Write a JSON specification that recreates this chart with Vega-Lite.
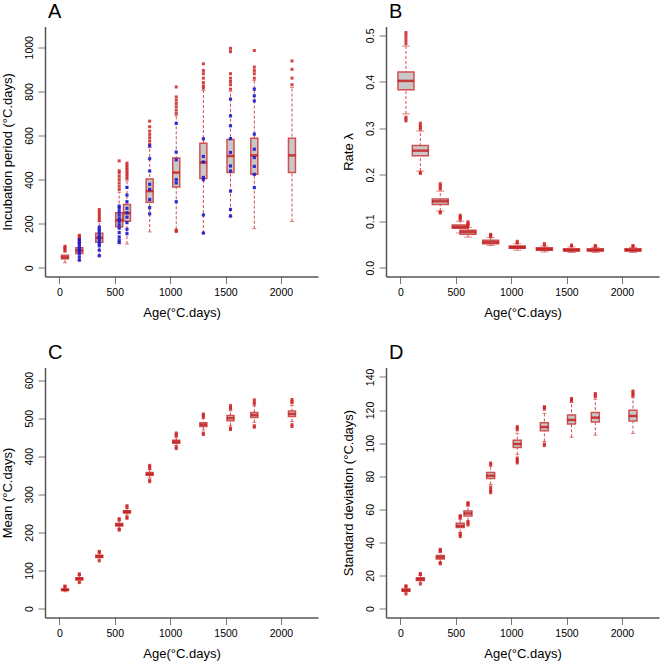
{
"$schema": "https://vega.github.io/schema/vega-lite/v6.json",
"padding": {"left": 1, "top": 1.5, "right": 4, "bottom": 5},
"columns": 2,
"bounds": "flush",
"spacing": {"column": 68, "row": 91},
"config": {
  "view": {"stroke": null},
  "font": "Liberation Sans",
  "axis": {"grid": false, "domainColor": "#555555", "domainWidth": 1.5, "tickColor": "#777777", "tickSize": 7, "tickWidth": 1, "labelFontSize": 10.5, "labelColor": "#000000", "titleFontSize": 13, "titleFontWeight": "normal", "titleColor": "#000000", "labelFont": "Liberation Sans", "titleFont": "Liberation Sans", "labelFlush": false, "labelOverlap": false},
  "axisY": {"labelAngle": -90, "labelPadding": 4, "titlePadding": 10, "format": "d"},
  "axisX": {"labelPadding": 4, "titlePadding": 8, "format": "d"},
  "title": {"fontSize": 20, "fontWeight": "normal", "anchor": "start", "frame": "group", "font": "Liberation Sans", "offset": 5, "dx": 3, "color": "#000000"}
},
"datasets": {
"box": [
{"p":"A","x":50,"lo":23,"q1":41,"med":48,"q3":57,"hi":72},
{"p":"A","x":180,"lo":35,"q1":65,"med":79,"q3":91,"hi":115},
{"p":"A","x":360,"lo":55,"q1":116,"med":136,"q3":157,"hi":210},
{"p":"A","x":540,"lo":110,"q1":186,"med":216,"q3":250,"hi":343},
{"p":"A","x":610,"lo":108,"q1":211,"med":248,"q3":287,"hi":395},
{"p":"A","x":815,"lo":163,"q1":298,"med":348,"q3":403,"hi":545},
{"p":"A","x":1055,"lo":175,"q1":367,"med":432,"q3":498,"hi":690},
{"p":"A","x":1300,"lo":158,"q1":405,"med":478,"q3":565,"hi":805},
{"p":"A","x":1545,"lo":232,"q1":432,"med":507,"q3":582,"hi":800},
{"p":"A","x":1760,"lo":178,"q1":424,"med":510,"q3":588,"hi":850},
{"p":"A","x":2100,"lo":210,"q1":432,"med":510,"q3":588,"hi":818},
{"p":"B","x":50,"lo":0.331,"q1":0.383,"med":0.402,"q3":0.421,"hi":0.477},
{"p":"B","x":180,"lo":0.208,"q1":0.241,"med":0.252,"q3":0.263,"hi":0.294},
{"p":"B","x":360,"lo":0.122,"q1":0.136,"med":0.143,"q3":0.148,"hi":0.165},
{"p":"B","x":540,"lo":0.075,"q1":0.085,"med":0.088,"q3":0.092,"hi":0.100},
{"p":"B","x":610,"lo":0.066,"q1":0.072,"med":0.077,"q3":0.081,"hi":0.087},
{"p":"B","x":815,"lo":0.048,"q1":0.052,"med":0.055,"q3":0.059,"hi":0.065},
{"p":"B","x":1055,"lo":0.038,"q1":0.042,"med":0.044,"q3":0.047,"hi":0.052},
{"p":"B","x":1300,"lo":0.034,"q1":0.038,"med":0.040,"q3":0.043,"hi":0.047},
{"p":"B","x":1545,"lo":0.033,"q1":0.036,"med":0.038,"q3":0.041,"hi":0.045},
{"p":"B","x":1760,"lo":0.033,"q1":0.036,"med":0.038,"q3":0.041,"hi":0.044},
{"p":"B","x":2100,"lo":0.033,"q1":0.036,"med":0.038,"q3":0.041,"hi":0.044},
{"p":"C","x":50,"lo":44,"q1":47,"med":49,"q3":51,"hi":54},
{"p":"C","x":180,"lo":70,"q1":75,"med":78,"q3":81,"hi":86},
{"p":"C","x":360,"lo":128,"q1":134,"med":137,"q3":140,"hi":145},
{"p":"C","x":540,"lo":211,"q1":217,"med":220,"q3":223,"hi":230},
{"p":"C","x":610,"lo":245,"q1":251,"med":254,"q3":257,"hi":263},
{"p":"C","x":815,"lo":343,"q1":350,"med":353,"q3":357,"hi":365},
{"p":"C","x":1055,"lo":428,"q1":434,"med":438,"q3":442,"hi":450},
{"p":"C","x":1300,"lo":469,"q1":478,"med":483,"q3":488,"hi":499},
{"p":"C","x":1545,"lo":480,"q1":493,"med":500,"q3":507,"hi":519},
{"p":"C","x":1760,"lo":489,"q1":502,"med":508,"q3":515,"hi":532},
{"p":"C","x":2100,"lo":491,"q1":504,"med":511,"q3":519,"hi":533},
{"p":"D","x":50,"lo":9.5,"q1":10.5,"med":11.1,"q3":11.8,"hi":12.5},
{"p":"D","x":180,"lo":15.5,"q1":17,"med":17.8,"q3":18.6,"hi":20},
{"p":"D","x":360,"lo":28,"q1":30,"med":31,"q3":32,"hi":34},
{"p":"D","x":540,"lo":46,"q1":49,"med":50,"q3":51.6,"hi":54},
{"p":"D","x":610,"lo":53,"q1":56,"med":57.5,"q3":59,"hi":62},
{"p":"D","x":815,"lo":75,"q1":78.6,"med":80.3,"q3":82.2,"hi":86},
{"p":"D","x":1055,"lo":93,"q1":97.3,"med":99.5,"q3":101.7,"hi":106},
{"p":"D","x":1300,"lo":101,"q1":107.5,"med":109.7,"q3":112.3,"hi":118},
{"p":"D","x":1545,"lo":103.5,"q1":111.5,"med":114,"q3":117,"hi":124.5},
{"p":"D","x":1760,"lo":104.8,"q1":112.8,"med":115.4,"q3":118.5,"hi":126.5},
{"p":"D","x":2100,"lo":105.8,"q1":113.4,"med":116.4,"q3":119.9,"hi":127.5}
],
"out": [
{"p":"A","x":50,"y":78},{"p":"A","x":50,"y":85},{"p":"A","x":50,"y":92},{"p":"A","x":50,"y":98},
{"p":"A","x":180,"y":120},{"p":"A","x":180,"y":128},{"p":"A","x":180,"y":135},{"p":"A","x":180,"y":142},{"p":"A","x":180,"y":148},
{"p":"A","x":360,"y":215},{"p":"A","x":360,"y":225},{"p":"A","x":360,"y":235},{"p":"A","x":360,"y":245},{"p":"A","x":360,"y":255},{"p":"A","x":360,"y":265},
{"p":"A","x":540,"y":355},{"p":"A","x":540,"y":370},{"p":"A","x":540,"y":385},{"p":"A","x":540,"y":400},{"p":"A","x":540,"y":415},{"p":"A","x":540,"y":430},{"p":"A","x":540,"y":440},{"p":"A","x":540,"y":485},
{"p":"A","x":610,"y":405},{"p":"A","x":610,"y":415},{"p":"A","x":610,"y":425},{"p":"A","x":610,"y":435},{"p":"A","x":610,"y":445},{"p":"A","x":610,"y":455},{"p":"A","x":610,"y":465},{"p":"A","x":610,"y":475},
{"p":"A","x":815,"y":560},{"p":"A","x":815,"y":575},{"p":"A","x":815,"y":590},{"p":"A","x":815,"y":605},{"p":"A","x":815,"y":620},{"p":"A","x":815,"y":640},{"p":"A","x":815,"y":665},
{"p":"A","x":1055,"y":165},{"p":"A","x":1055,"y":170},{"p":"A","x":1055,"y":700},{"p":"A","x":1055,"y":715},{"p":"A","x":1055,"y":730},{"p":"A","x":1055,"y":745},{"p":"A","x":1055,"y":760},{"p":"A","x":1055,"y":775},{"p":"A","x":1055,"y":820},
{"p":"A","x":1300,"y":815},{"p":"A","x":1300,"y":825},{"p":"A","x":1300,"y":840},{"p":"A","x":1300,"y":860},{"p":"A","x":1300,"y":880},{"p":"A","x":1300,"y":895},{"p":"A","x":1300,"y":925},
{"p":"A","x":1545,"y":810},{"p":"A","x":1545,"y":830},{"p":"A","x":1545,"y":845},{"p":"A","x":1545,"y":860},{"p":"A","x":1545,"y":880},{"p":"A","x":1545,"y":980},{"p":"A","x":1545,"y":995},
{"p":"A","x":1760,"y":860},{"p":"A","x":1760,"y":880},{"p":"A","x":1760,"y":895},{"p":"A","x":1760,"y":910},{"p":"A","x":1760,"y":985},
{"p":"A","x":2100,"y":830},{"p":"A","x":2100,"y":860},{"p":"A","x":2100,"y":900},{"p":"A","x":2100,"y":938},
{"p":"B","x":50,"y":0.316},{"p":"B","x":50,"y":0.320},{"p":"B","x":50,"y":0.324},{"p":"B","x":50,"y":0.482},{"p":"B","x":50,"y":0.488},{"p":"B","x":50,"y":0.494},{"p":"B","x":50,"y":0.500},{"p":"B","x":50,"y":0.506},
{"p":"B","x":180,"y":0.203},{"p":"B","x":180,"y":0.205},{"p":"B","x":180,"y":0.298},{"p":"B","x":180,"y":0.302},{"p":"B","x":180,"y":0.306},{"p":"B","x":180,"y":0.311},
{"p":"B","x":360,"y":0.118},{"p":"B","x":360,"y":0.120},{"p":"B","x":360,"y":0.169},{"p":"B","x":360,"y":0.173},{"p":"B","x":360,"y":0.177},{"p":"B","x":360,"y":0.181},
{"p":"B","x":540,"y":0.104},{"p":"B","x":540,"y":0.107},{"p":"B","x":540,"y":0.110},{"p":"B","x":540,"y":0.113},
{"p":"B","x":610,"y":0.090},{"p":"B","x":610,"y":0.093},{"p":"B","x":610,"y":0.096},{"p":"B","x":610,"y":0.099},
{"p":"B","x":815,"y":0.067},{"p":"B","x":815,"y":0.070},{"p":"B","x":815,"y":0.072},
{"p":"B","x":1055,"y":0.054},{"p":"B","x":1055,"y":0.057},
{"p":"B","x":1300,"y":0.049},{"p":"B","x":1300,"y":0.052},
{"p":"B","x":1545,"y":0.047},{"p":"B","x":1545,"y":0.049},
{"p":"B","x":1760,"y":0.046},{"p":"B","x":1760,"y":0.048},
{"p":"B","x":2100,"y":0.046},{"p":"B","x":2100,"y":0.048},
{"p":"C","x":50,"y":57},{"p":"C","x":50,"y":59},
{"p":"C","x":180,"y":68},{"p":"C","x":180,"y":89},{"p":"C","x":180,"y":91},
{"p":"C","x":360,"y":125},{"p":"C","x":360,"y":148},{"p":"C","x":360,"y":150},
{"p":"C","x":540,"y":206},{"p":"C","x":540,"y":208},{"p":"C","x":540,"y":233},{"p":"C","x":540,"y":236},
{"p":"C","x":610,"y":237},{"p":"C","x":610,"y":240},{"p":"C","x":610,"y":266},{"p":"C","x":610,"y":270},
{"p":"C","x":815,"y":333},{"p":"C","x":815,"y":337},{"p":"C","x":815,"y":368},{"p":"C","x":815,"y":372},{"p":"C","x":815,"y":376},
{"p":"C","x":1055,"y":420},{"p":"C","x":1055,"y":424},{"p":"C","x":1055,"y":453},{"p":"C","x":1055,"y":457},{"p":"C","x":1055,"y":461},
{"p":"C","x":1300,"y":457},{"p":"C","x":1300,"y":461},{"p":"C","x":1300,"y":503},{"p":"C","x":1300,"y":507},{"p":"C","x":1300,"y":511},
{"p":"C","x":1545,"y":470},{"p":"C","x":1545,"y":474},{"p":"C","x":1545,"y":524},{"p":"C","x":1545,"y":528},{"p":"C","x":1545,"y":533},
{"p":"C","x":1760,"y":476},{"p":"C","x":1760,"y":480},{"p":"C","x":1760,"y":537},{"p":"C","x":1760,"y":542},{"p":"C","x":1760,"y":548},
{"p":"C","x":2100,"y":478},{"p":"C","x":2100,"y":483},{"p":"C","x":2100,"y":540},{"p":"C","x":2100,"y":544},{"p":"C","x":2100,"y":549},
{"p":"D","x":50,"y":8.8},{"p":"D","x":50,"y":13.2},{"p":"D","x":50,"y":13.8},
{"p":"D","x":180,"y":14.8},{"p":"D","x":180,"y":20.6},{"p":"D","x":180,"y":21.2},
{"p":"D","x":360,"y":27},{"p":"D","x":360,"y":27.6},{"p":"D","x":360,"y":34.6},{"p":"D","x":360,"y":35.2},{"p":"D","x":360,"y":35.8},
{"p":"D","x":540,"y":43.5},{"p":"D","x":540,"y":44.5},{"p":"D","x":540,"y":45.2},{"p":"D","x":540,"y":54.8},{"p":"D","x":540,"y":55.5},{"p":"D","x":540,"y":56.2},
{"p":"D","x":610,"y":50.5},{"p":"D","x":610,"y":51.5},{"p":"D","x":610,"y":52.5},{"p":"D","x":610,"y":62.5},{"p":"D","x":610,"y":63.5},{"p":"D","x":610,"y":64},
{"p":"D","x":815,"y":70},{"p":"D","x":815,"y":71},{"p":"D","x":815,"y":72},{"p":"D","x":815,"y":73.5},{"p":"D","x":815,"y":87},{"p":"D","x":815,"y":88},
{"p":"D","x":1055,"y":88},{"p":"D","x":1055,"y":89},{"p":"D","x":1055,"y":90},{"p":"D","x":1055,"y":91},{"p":"D","x":1055,"y":108},{"p":"D","x":1055,"y":109},{"p":"D","x":1055,"y":110},
{"p":"D","x":1300,"y":98.5},{"p":"D","x":1300,"y":99.5},{"p":"D","x":1300,"y":120.5},{"p":"D","x":1300,"y":121.5},{"p":"D","x":1300,"y":122},
{"p":"D","x":1545,"y":125.5},{"p":"D","x":1545,"y":126.2},{"p":"D","x":1545,"y":127},
{"p":"D","x":1760,"y":128},{"p":"D","x":1760,"y":129},{"p":"D","x":1760,"y":130},
{"p":"D","x":2100,"y":128.5},{"p":"D","x":2100,"y":129.5},{"p":"D","x":2100,"y":130.5},{"p":"D","x":2100,"y":131.5}
],
"obs": [
{"x":180,"y":35},{"x":180,"y":50},{"x":180,"y":65},{"x":180,"y":72},{"x":180,"y":80},{"x":180,"y":88},{"x":180,"y":95},{"x":180,"y":105},{"x":180,"y":115},{"x":180,"y":128},
{"x":360,"y":55},{"x":360,"y":80},{"x":360,"y":100},{"x":360,"y":110},{"x":360,"y":120},{"x":360,"y":130},{"x":360,"y":140},{"x":360,"y":150},{"x":360,"y":165},{"x":360,"y":175},{"x":360,"y":185},
{"x":540,"y":115},{"x":540,"y":125},{"x":540,"y":140},{"x":540,"y":160},{"x":540,"y":180},{"x":540,"y":195},{"x":540,"y":210},{"x":540,"y":225},{"x":540,"y":240},{"x":540,"y":255},{"x":540,"y":270},{"x":540,"y":280},
{"x":610,"y":155},{"x":610,"y":175},{"x":610,"y":205},{"x":610,"y":230},{"x":610,"y":250},{"x":610,"y":270},{"x":610,"y":300},{"x":610,"y":330},{"x":610,"y":365},
{"x":815,"y":245},{"x":815,"y":273},{"x":815,"y":310},{"x":815,"y":356},{"x":815,"y":379},{"x":815,"y":439},{"x":815,"y":495},{"x":815,"y":553},
{"x":1055,"y":300},{"x":1055,"y":385},{"x":1055,"y":400},{"x":1055,"y":490},{"x":1055,"y":525},{"x":1055,"y":655},
{"x":1300,"y":158},{"x":1300,"y":240},{"x":1300,"y":400},{"x":1300,"y":410},{"x":1300,"y":480},{"x":1300,"y":505},{"x":1300,"y":585},
{"x":1545,"y":235},{"x":1545,"y":265},{"x":1545,"y":348},{"x":1545,"y":439},{"x":1545,"y":462},{"x":1545,"y":523},{"x":1545,"y":586},{"x":1545,"y":644},{"x":1545,"y":689},{"x":1545,"y":765},
{"x":1760,"y":364},{"x":1760,"y":424},{"x":1760,"y":460},{"x":1760,"y":500},{"x":1760,"y":538},{"x":1760,"y":606},{"x":1760,"y":757},{"x":1760,"y":780},{"x":1760,"y":810}
]
},
"concat": [
{
 "width": 273, "height": 250,
 "title": {"text": "A"},
 "encoding": {"x": {"field": "x", "type": "quantitative", "scale": {"domain": [-85, 2290], "nice": false, "zero": false}, "axis": {"values": [0, 500, 1000, 1500, 2000], "title": "Age(°C.days)"}}},
 "layer": [
  {"data": {"name": "box"}, "transform": [{"filter": "datum.p == 'A'"}], "mark": {"type": "rule", "color": "#d24b4b", "strokeDash": [3, 2], "strokeWidth": 1}, "encoding": {"y": {"field": "lo", "type": "quantitative", "scale": {"domain": [-39, 1094], "nice": false, "zero": false}, "axis": {"values": [0, 200, 400, 600, 800, 1000], "title": "Incubation period (°C.days)"}}, "y2": {"field": "hi"}}},
  {"data": {"name": "box"}, "transform": [{"filter": "datum.p == 'A'"}, {"fold": ["lo", "hi"], "as": ["k", "v"]}], "mark": {"type": "tick", "orient": "horizontal", "color": "#d24b4b", "size": 4, "thickness": 1}, "encoding": {"y": {"field": "v", "type": "quantitative", "scale": {"domain": [-39, 1094], "nice": false, "zero": false}, "axis": {"values": [0, 200, 400, 600, 800, 1000], "title": "Incubation period (°C.days)"}}}},
  {"data": {"name": "box"}, "transform": [{"filter": "datum.p == 'A'"}], "mark": {"type": "bar", "width": 7, "fill": "#c8c8c8", "stroke": "#d05050", "strokeWidth": 1.5}, "encoding": {"y": {"field": "q1", "type": "quantitative", "scale": {"domain": [-39, 1094], "nice": false, "zero": false}, "axis": {"values": [0, 200, 400, 600, 800, 1000], "title": "Incubation period (°C.days)"}}, "y2": {"field": "q3"}}},
  {"data": {"name": "box"}, "transform": [{"filter": "datum.p == 'A'"}], "mark": {"type": "tick", "orient": "horizontal", "color": "#c00000", "size": 7, "thickness": 2.5}, "encoding": {"y": {"field": "med", "type": "quantitative", "scale": {"domain": [-39, 1094], "nice": false, "zero": false}, "axis": {"values": [0, 200, 400, 600, 800, 1000], "title": "Incubation period (°C.days)"}}}},
  {"data": {"name": "out"}, "transform": [{"filter": "datum.p == 'A'"}], "mark": {"type": "point", "shape": "square", "filled": true, "size": 9, "color": "#cc2222", "opacity": 0.85}, "encoding": {"y": {"field": "y", "type": "quantitative", "scale": {"domain": [-39, 1094], "nice": false, "zero": false}, "axis": {"values": [0, 200, 400, 600, 800, 1000], "title": "Incubation period (°C.days)"}}}},
  {"data": {"name": "obs"}, "mark": {"type": "point", "shape": "square", "filled": true, "size": 10, "color": "#1a1ad0", "opacity": 0.9}, "encoding": {"y": {"field": "y", "type": "quantitative", "scale": {"domain": [-39, 1094], "nice": false, "zero": false}, "axis": {"values": [0, 200, 400, 600, 800, 1000], "title": "Incubation period (°C.days)"}}}}
 ]
},
{
 "width": 273, "height": 250,
 "title": {"text": "B"},
 "encoding": {"x": {"field": "x", "type": "quantitative", "scale": {"domain": [-85, 2290], "nice": false, "zero": false}, "axis": {"values": [0, 500, 1000, 1500, 2000], "title": "Age(°C.days)"}}},
 "layer": [
  {"data": {"name": "box"}, "transform": [{"filter": "datum.p == 'B'"}], "mark": {"type": "rule", "color": "#d24b4b", "strokeDash": [3, 2], "strokeWidth": 1}, "encoding": {"y": {"field": "lo", "type": "quantitative", "scale": {"domain": [-0.0187, 0.519], "nice": false, "zero": false}, "axis": {"values": [0, 0.1, 0.2, 0.3, 0.4, 0.5], "format": ".1f", "title": "Rate λ"}}, "y2": {"field": "hi"}}},
  {"data": {"name": "box"}, "transform": [{"filter": "datum.p == 'B'"}, {"fold": ["lo", "hi"], "as": ["k", "v"]}], "mark": {"type": "tick", "orient": "horizontal", "color": "#d24b4b", "size": 8, "thickness": 1}, "encoding": {"y": {"field": "v", "type": "quantitative", "scale": {"domain": [-0.0187, 0.519], "nice": false, "zero": false}, "axis": {"values": [0, 0.1, 0.2, 0.3, 0.4, 0.5], "format": ".1f", "title": "Rate λ"}}}},
  {"data": {"name": "box"}, "transform": [{"filter": "datum.p == 'B'"}], "mark": {"type": "bar", "width": 16, "fill": "#c8c8c8", "stroke": "#d05050", "strokeWidth": 1.5}, "encoding": {"y": {"field": "q1", "type": "quantitative", "scale": {"domain": [-0.0187, 0.519], "nice": false, "zero": false}, "axis": {"values": [0, 0.1, 0.2, 0.3, 0.4, 0.5], "format": ".1f", "title": "Rate λ"}}, "y2": {"field": "q3"}}},
  {"data": {"name": "box"}, "transform": [{"filter": "datum.p == 'B'"}], "mark": {"type": "tick", "orient": "horizontal", "color": "#c00000", "size": 16, "thickness": 2.5}, "encoding": {"y": {"field": "med", "type": "quantitative", "scale": {"domain": [-0.0187, 0.519], "nice": false, "zero": false}, "axis": {"values": [0, 0.1, 0.2, 0.3, 0.4, 0.5], "format": ".1f", "title": "Rate λ"}}}},
  {"data": {"name": "out"}, "transform": [{"filter": "datum.p == 'B'"}], "mark": {"type": "point", "shape": "square", "filled": true, "size": 9, "color": "#cc2222", "opacity": 0.85}, "encoding": {"y": {"field": "y", "type": "quantitative", "scale": {"domain": [-0.0187, 0.519], "nice": false, "zero": false}, "axis": {"values": [0, 0.1, 0.2, 0.3, 0.4, 0.5], "format": ".1f", "title": "Rate λ"}}}}
 ]
},
{
 "width": 273, "height": 250,
 "title": {"text": "C"},
 "encoding": {"x": {"field": "x", "type": "quantitative", "scale": {"domain": [-85, 2290], "nice": false, "zero": false}, "axis": {"values": [0, 500, 1000, 1500, 2000], "title": "Age(°C.days)"}}},
 "layer": [
  {"data": {"name": "box"}, "transform": [{"filter": "datum.p == 'C'"}], "mark": {"type": "rule", "color": "#d24b4b", "strokeDash": [3, 2], "strokeWidth": 1}, "encoding": {"y": {"field": "lo", "type": "quantitative", "scale": {"domain": [-23.6, 633], "nice": false, "zero": false}, "axis": {"values": [0, 100, 200, 300, 400, 500, 600], "title": "Mean (°C.days)"}}, "y2": {"field": "hi"}}},
  {"data": {"name": "box"}, "transform": [{"filter": "datum.p == 'C'"}, {"fold": ["lo", "hi"], "as": ["k", "v"]}], "mark": {"type": "tick", "orient": "horizontal", "color": "#d24b4b", "size": 4, "thickness": 1}, "encoding": {"y": {"field": "v", "type": "quantitative", "scale": {"domain": [-23.6, 633], "nice": false, "zero": false}, "axis": {"values": [0, 100, 200, 300, 400, 500, 600], "title": "Mean (°C.days)"}}}},
  {"data": {"name": "box"}, "transform": [{"filter": "datum.p == 'C'"}], "mark": {"type": "bar", "width": 7, "fill": "#c8c8c8", "stroke": "#d05050", "strokeWidth": 1.5}, "encoding": {"y": {"field": "q1", "type": "quantitative", "scale": {"domain": [-23.6, 633], "nice": false, "zero": false}, "axis": {"values": [0, 100, 200, 300, 400, 500, 600], "title": "Mean (°C.days)"}}, "y2": {"field": "q3"}}},
  {"data": {"name": "box"}, "transform": [{"filter": "datum.p == 'C'"}], "mark": {"type": "tick", "orient": "horizontal", "color": "#c00000", "size": 7, "thickness": 2.5}, "encoding": {"y": {"field": "med", "type": "quantitative", "scale": {"domain": [-23.6, 633], "nice": false, "zero": false}, "axis": {"values": [0, 100, 200, 300, 400, 500, 600], "title": "Mean (°C.days)"}}}},
  {"data": {"name": "out"}, "transform": [{"filter": "datum.p == 'C'"}], "mark": {"type": "point", "shape": "square", "filled": true, "size": 9, "color": "#cc2222", "opacity": 0.85}, "encoding": {"y": {"field": "y", "type": "quantitative", "scale": {"domain": [-23.6, 633], "nice": false, "zero": false}, "axis": {"values": [0, 100, 200, 300, 400, 500, 600], "title": "Mean (°C.days)"}}}}
 ]
},
{
 "width": 273, "height": 250,
 "title": {"text": "D"},
 "encoding": {"x": {"field": "x", "type": "quantitative", "scale": {"domain": [-85, 2290], "nice": false, "zero": false}, "axis": {"values": [0, 500, 1000, 1500, 2000], "title": "Age(°C.days)"}}},
 "layer": [
  {"data": {"name": "box"}, "transform": [{"filter": "datum.p == 'D'"}], "mark": {"type": "rule", "color": "#d24b4b", "strokeDash": [3, 2], "strokeWidth": 1}, "encoding": {"y": {"field": "lo", "type": "quantitative", "scale": {"domain": [-5.4, 145.7], "nice": false, "zero": false}, "axis": {"values": [0, 20, 40, 60, 80, 100, 120, 140], "title": "Standard deviation (°C.days)"}}, "y2": {"field": "hi"}}},
  {"data": {"name": "box"}, "transform": [{"filter": "datum.p == 'D'"}, {"fold": ["lo", "hi"], "as": ["k", "v"]}], "mark": {"type": "tick", "orient": "horizontal", "color": "#d24b4b", "size": 4, "thickness": 1}, "encoding": {"y": {"field": "v", "type": "quantitative", "scale": {"domain": [-5.4, 145.7], "nice": false, "zero": false}, "axis": {"values": [0, 20, 40, 60, 80, 100, 120, 140], "title": "Standard deviation (°C.days)"}}}},
  {"data": {"name": "box"}, "transform": [{"filter": "datum.p == 'D'"}], "mark": {"type": "bar", "width": 8, "fill": "#c8c8c8", "stroke": "#d05050", "strokeWidth": 1.5}, "encoding": {"y": {"field": "q1", "type": "quantitative", "scale": {"domain": [-5.4, 145.7], "nice": false, "zero": false}, "axis": {"values": [0, 20, 40, 60, 80, 100, 120, 140], "title": "Standard deviation (°C.days)"}}, "y2": {"field": "q3"}}},
  {"data": {"name": "box"}, "transform": [{"filter": "datum.p == 'D'"}], "mark": {"type": "tick", "orient": "horizontal", "color": "#c00000", "size": 8, "thickness": 2.5}, "encoding": {"y": {"field": "med", "type": "quantitative", "scale": {"domain": [-5.4, 145.7], "nice": false, "zero": false}, "axis": {"values": [0, 20, 40, 60, 80, 100, 120, 140], "title": "Standard deviation (°C.days)"}}}},
  {"data": {"name": "out"}, "transform": [{"filter": "datum.p == 'D'"}], "mark": {"type": "point", "shape": "square", "filled": true, "size": 9, "color": "#cc2222", "opacity": 0.85}, "encoding": {"y": {"field": "y", "type": "quantitative", "scale": {"domain": [-5.4, 145.7], "nice": false, "zero": false}, "axis": {"values": [0, 20, 40, 60, 80, 100, 120, 140], "title": "Standard deviation (°C.days)"}}}}
 ]
}
]
}
